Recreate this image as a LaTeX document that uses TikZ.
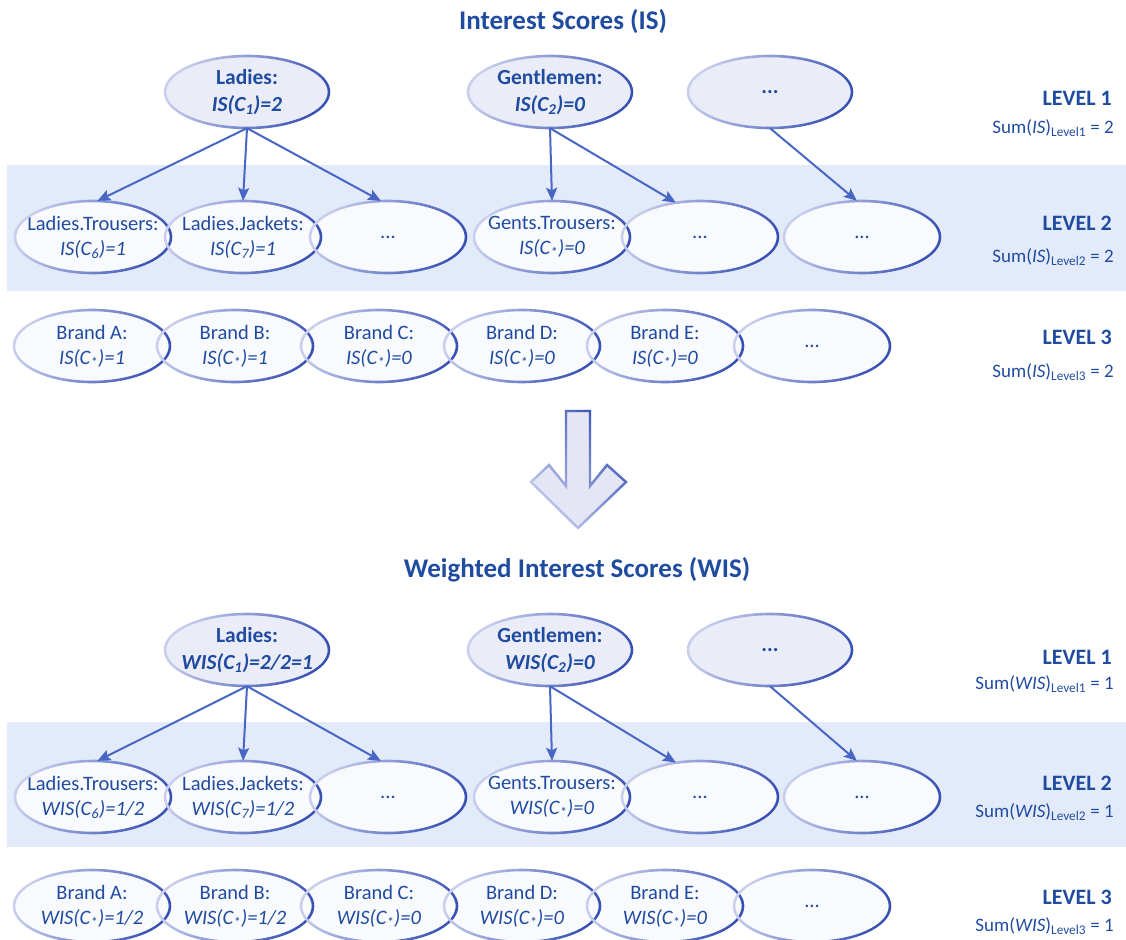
\documentclass[tikz,border=0pt]{standalone}
\usepackage{fontspec}
\setmainfont{Carlito}
\usetikzlibrary{shapes.geometric,arrows.meta,fadings}
\definecolor{textc}{RGB}{32,76,160}
\definecolor{conncol}{RGB}{72,102,196}
\definecolor{ringl}{RGB}{200,206,236}
\definecolor{ringd}{RGB}{56,82,180}
\definecolor{bandc}{RGB}{227,235,250}
\definecolor{fillA}{RGB}{234,236,248}
\definecolor{fillB}{RGB}{249,250,254}
\definecolor{arrfill}{RGB}{228,230,245}
\tikzfading[name=myfade, left color=transparent!100, right color=transparent!0]
\newcommand\ringit[3]{%
 \pgfmathsetmacro\rxo{#2+1.3}\pgfmathsetmacro\ryo{#3+1.3}%
 \pgfmathsetmacro\rxi{#2-1.3}\pgfmathsetmacro\ryi{#3-1.3}%
 \shade[ringshade] (#1.center) ellipse[x radius=\rxo pt, y radius=\ryo pt]
   (#1.center) ellipse[x radius=\rxi pt, y radius=\ryi pt];}
\begin{document}
\begin{tikzpicture}[x=1pt,y=-1pt,
 ovalnode/.style={ellipse, inner xsep=-30pt, inner ysep=-10pt, align=center, text=textc, font=\fontsize{20.5}{25}\selectfont},
 top/.style={ovalnode, fill=fillA, minimum width=164pt, minimum height=72pt, font=\fontsize{21.5}{27}\selectfont\bfseries},
 low/.style={ovalnode, fill=fillB, minimum width=156pt, minimum height=72pt},
 ringshade/.style={even odd rule, shading=axis, top color=ringl, bottom color=ringd, shading angle=65},
 conn/.style={draw=conncol, line width=2pt, -{Stealth[length=13pt,width=11pt,inset=2.5pt]}},
 title/.style={text=textc, font=\fontsize{27}{31}\selectfont\bfseries},
 lvl/.style={text=textc, inner sep=0pt, font=\fontsize{22}{26}\selectfont\bfseries, anchor=east},
 sumlbl/.style={text=textc, inner sep=0pt, font=\fontsize{19}{23}\selectfont, anchor=east},
]
\useasboundingbox (0,0) rectangle (1126,939);
% bands
\fill[bandc] (7,165) rectangle (1126,291);
\fill[bandc] (7,722) rectangle (1126,847);

% titles
\node[title] (t1) at (563,22) {Interest Scores (IS)};
\node[title] (t2) at (577,570) {Weighted Interest Scores (WIS)};

% ===== top: IS =====
\node[top] (lad) at (247,92) {Ladies:\\\textit{IS(C\textsubscript{1})=2}};
\node[top] (gl) at (550,92) {Gentlemen:\\\textit{IS(C\textsubscript{2})=0}};
\node[top] (d0) at (770,92) {...};

\node[low] (lt) at (93,237) {Ladies.Trousers:\\\textit{IS(C\textsubscript{6})=1}};
\node[low] (lj) at (243,237) {Ladies.Jackets:\\\textit{IS(C\textsubscript{7})=1}};
\node[low] (d1) at (388,237) {...};
\node[low] (gt) at (552,237) {Gents.Trousers:\\\textit{IS(C\textsubscript{*})=0}};
\node[low] (d2) at (700,237) {...};
\node[low] (d3) at (862,237) {...};

\node[low] (ba) at (92,346) {Brand A:\\\textit{IS(C\textsubscript{*})=1}};
\node[low] (bb) at (235,346) {Brand B:\\\textit{IS(C\textsubscript{*})=1}};
\node[low] (bc) at (379,346) {Brand C:\\\textit{IS(C\textsubscript{*})=0}};
\node[low] (bd) at (522,346) {Brand D:\\\textit{IS(C\textsubscript{*})=0}};
\node[low] (be) at (665,346) {Brand E:\\\textit{IS(C\textsubscript{*})=0}};
\node[low] (d4) at (812,346) {...};

% ===== bottom: WIS =====
\node[top] (wlad) at (247,650) {Ladies:\\\textit{WIS(C\textsubscript{1})=2/2=1}};
\node[top] (wgl) at (550,650) {Gentlemen:\\\textit{WIS(C\textsubscript{2})=0}};
\node[top] (wd0) at (770,650) {...};

\node[low] (wlt) at (93,797) {Ladies.Trousers:\\\textit{WIS(C\textsubscript{6})=1/2}};
\node[low] (wlj) at (243,797) {Ladies.Jackets:\\\textit{WIS(C\textsubscript{7})=1/2}};
\node[low] (wd1) at (388,797) {...};
\node[low] (wgt) at (552,797) {Gents.Trousers:\\\textit{WIS(C\textsubscript{*})=0}};
\node[low] (wd2) at (700,797) {...};
\node[low] (wd3) at (862,797) {...};

\node[low] (wba) at (92,906) {Brand A:\\\textit{WIS(C\textsubscript{*})=1/2}};
\node[low] (wbb) at (235,906) {Brand B:\\\textit{WIS(C\textsubscript{*})=1/2}};
\node[low] (wbc) at (379,906) {Brand C:\\\textit{WIS(C\textsubscript{*})=0}};
\node[low] (wbd) at (522,906) {Brand D:\\\textit{WIS(C\textsubscript{*})=0}};
\node[low] (wbe) at (665,906) {Brand E:\\\textit{WIS(C\textsubscript{*})=0}};
\node[low] (wd4) at (812,906) {...};

% rings
\foreach \n in {lad,gl,d0,wlad,wgl,wd0} {\ringit{\n}{82}{36}}
\foreach \n in {lt,lj,d1,gt,d2,d3,ba,bb,bc,bd,be,d4,wlt,wlj,wd1,wgt,wd2,wd3,wba,wbb,wbc,wbd,wbe,wd4} {\ringit{\n}{78}{36}}

% connectors
\foreach \p in {,w} {
  \draw[conn] (\p lad.south) -- (\p lt.83);
  \draw[conn] (\p lad.south) -- (\p lj.north);
  \draw[conn] (\p lad.south) -- (\p d1.101);
  \draw[conn] (\p gl.south) -- (\p gt.north);
  \draw[conn] (\p gl.south) -- (\p d2.125);
  \draw[conn] (\p d0.south) -- (\p d3.98);
}

% level labels
\node[lvl] (l1) at (1112,98) {LEVEL 1};
\node[sumlbl] (s1) at (1114,128) {Sum(\textit{IS})\textsubscript{Level1} = 2};
\node[lvl] (l2) at (1112,223) {LEVEL 2};
\node[sumlbl] (s2) at (1114,257) {Sum(\textit{IS})\textsubscript{Level2} = 2};
\node[lvl] (l3) at (1112,337) {LEVEL 3};
\node[sumlbl] (s3) at (1114,372) {Sum(\textit{IS})\textsubscript{Level3} = 2};

\node[lvl] (wl1) at (1112,657) {LEVEL 1};
\node[sumlbl] (ws1) at (1114,684) {Sum(\textit{WIS})\textsubscript{Level1} = 1};
\node[lvl] (wl2) at (1112,783) {LEVEL 2};
\node[sumlbl] (ws2) at (1114,812) {Sum(\textit{WIS})\textsubscript{Level2} = 1};
\node[lvl] (wl3) at (1112,897) {LEVEL 3};
\node[sumlbl] (ws3) at (1114,926) {Sum(\textit{WIS})\textsubscript{Level3} = 1};

% big arrow
\path[fill=arrfill, draw=ringl, line width=2.4pt, line join=miter]
  (566,411) -- (590,411) -- (590,486) -- (607,465) -- (626,482) -- (578,528)
  -- (531,482) -- (549,465) -- (566,486) -- cycle;
\path[draw=ringd, line width=2.4pt, line join=miter, path fading=myfade, fading angle=45]
  (566,411) -- (590,411) -- (590,486) -- (607,465) -- (626,482) -- (578,528)
  -- (531,482) -- (549,465) -- (566,486) -- cycle;
\end{tikzpicture}
\end{document}
